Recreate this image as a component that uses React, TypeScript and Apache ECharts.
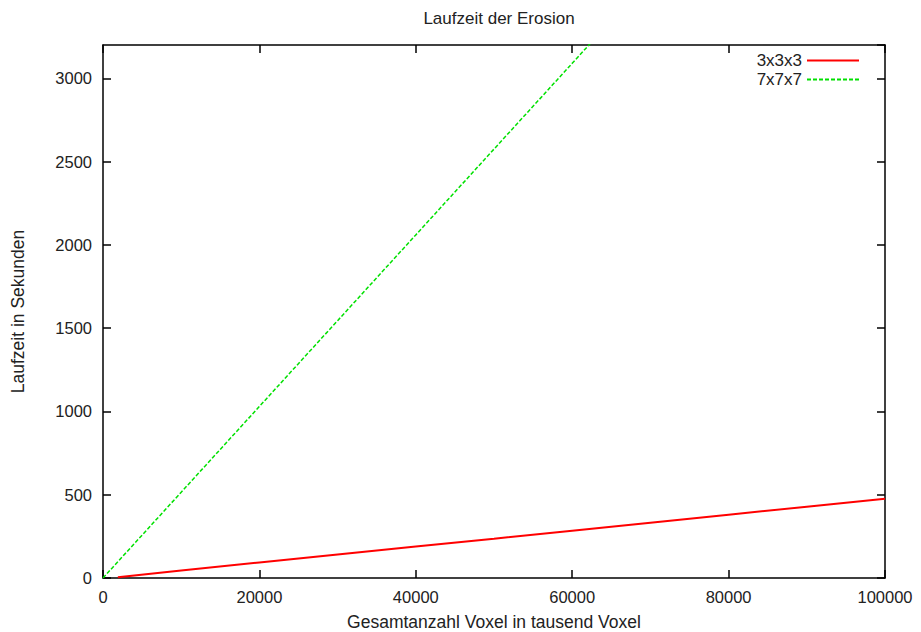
import React, { useEffect, useRef } from "react";
import * as echarts from "echarts";

const title = "Laufzeit der Erosion";
const xName = "Gesamtanzahl Voxel in tausend Voxel";
const yName = "Laufzeit in Sekunden";

const redName = "3x3x3";
const redVoxels = [1900, 10000, 20000, 30000, 40000, 50000, 60000, 70000, 80000, 90000, 100000];
const redTimes = [5, 45, 93, 141, 189, 236, 284, 332, 380, 428, 476];

const greenName = "7x7x7";
const greenVoxels = [0, 10000, 20000, 30000, 40000, 50000, 60000, 70000];
const greenTimes = [0, 515, 1030, 1545, 2060, 2575, 3090, 3605];

const FONT = "Liberation Sans, Arial, Helvetica, sans-serif";
const TXT = "#222";

function axisLine() {
  return { show: true, onZero: false, lineStyle: { color: "#000", width: 1.5 } };
}
function tick() {
  return { show: true, inside: true, length: 8, lineStyle: { color: "#000", width: 1.5 } };
}

export default function App() {
  const ref = useRef<HTMLDivElement>(null);
  useEffect(() => {
    if (!ref.current) return;
    const chart = echarts.init(ref.current, undefined, { renderer: "svg" });
    const fmt = (v: number) => String(v);
    chart.setOption({
      animation: false,
      backgroundColor: "#fff",
      textStyle: { fontFamily: FONT },
      title: {
        text: title,
        left: 494,
        textAlign: "center",
        top: 5,
        textStyle: { fontSize: 17, fontWeight: "normal", color: TXT, fontFamily: FONT },
      },
      grid: { left: 103, right: 36, top: 45, bottom: 54, outerBoundsMode: "none", containLabel: false },
      legend: {
        orient: "vertical",
        right: 56,
        top: 47,
        align: "right",
        itemWidth: 52,
        itemHeight: 10,
        itemGap: 2,
        itemStyle: { opacity: 0 },
        textStyle: { fontSize: 17, color: TXT, fontFamily: FONT },
        data: [redName, greenName],
      },
      xAxis: [
        {
          type: "value",
          min: 0,
          max: 100000,
          interval: 20000,
          position: "bottom",
          splitLine: { show: false },
          axisLine: axisLine(),
          axisTick: tick(),
          name: xName,
          nameLocation: "middle",
          nameGap: 35,
          nameTextStyle: { fontSize: 17.5, color: TXT, fontFamily: FONT },
          axisLabel: { color: TXT, fontSize: 16.5, margin: 10, fontFamily: FONT, formatter: fmt },
        },
        {
          type: "value",
          min: 0,
          max: 100000,
          interval: 20000,
          position: "top",
          splitLine: { show: false },
          axisLine: axisLine(),
          axisTick: tick(),
          axisLabel: { show: false },
        },
      ],
      yAxis: [
        {
          type: "value",
          min: 0,
          max: 3200,
          interval: 500,
          position: "left",
          splitLine: { show: false },
          axisLine: axisLine(),
          axisTick: tick(),
          name: yName,
          nameLocation: "middle",
          nameGap: 76,
          nameTextStyle: { fontSize: 17.5, color: TXT, fontFamily: FONT },
          axisLabel: { color: TXT, fontSize: 16.5, margin: 11, showMaxLabel: false, fontFamily: FONT, formatter: fmt },
        },
        {
          type: "value",
          min: 0,
          max: 3200,
          interval: 500,
          position: "right",
          splitLine: { show: false },
          axisLine: axisLine(),
          axisTick: tick(),
          axisLabel: { show: false },
        },
      ],
      series: [
        {
          name: redName,
          type: "line",
          showSymbol: false,
          symbol: "none",
          data: redVoxels.map((v, i) => [v, redTimes[i]]),
          lineStyle: { color: "#ff0000", width: 2 },
          itemStyle: { color: "#ff0000" },
        },
        {
          name: greenName,
          type: "line",
          showSymbol: false,
          symbol: "none",
          data: greenVoxels.map((v, i) => [v, greenTimes[i]]),
          lineStyle: { color: "#00e000", width: 1.5, type: [4, 2] },
          itemStyle: { color: "#00e000" },
        },
        {
          name: "mirror",
          type: "line",
          xAxisIndex: 1,
          yAxisIndex: 1,
          silent: true,
          showSymbol: false,
          data: [],
        },
      ],
    });
    return () => chart.dispose();
  }, []);
  return <div ref={ref} style={{ position: "fixed", left: 0, top: 0, width: 921, height: 632 }} />;
}
